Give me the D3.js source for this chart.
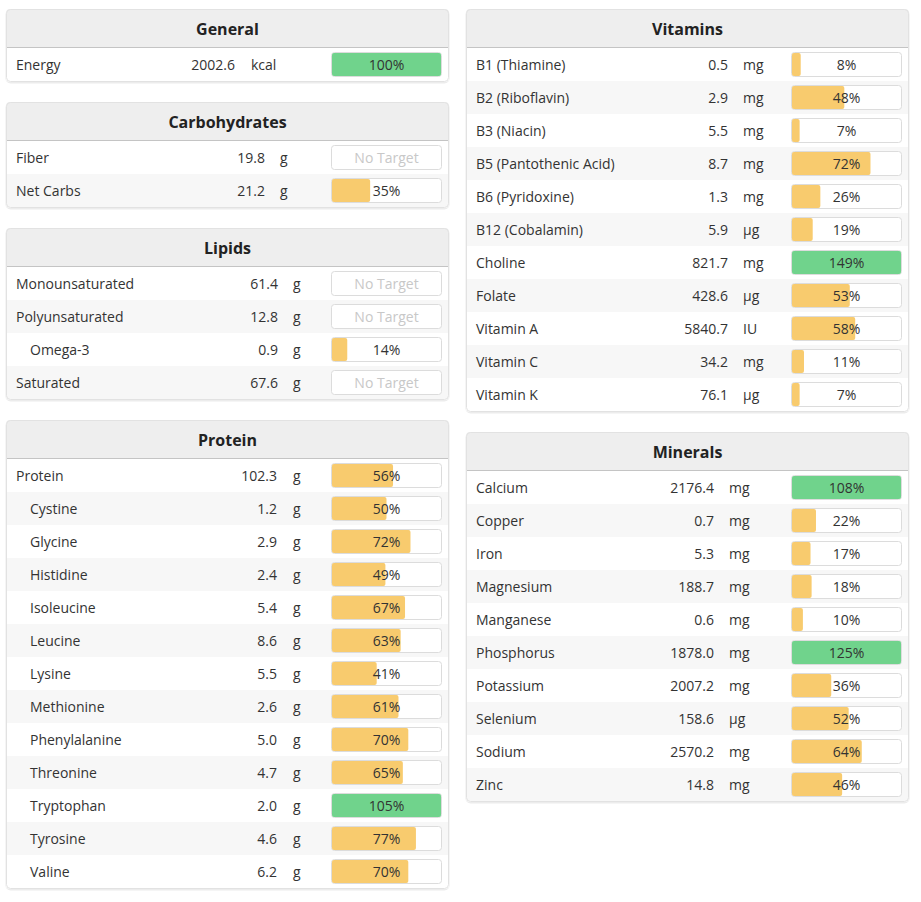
<!DOCTYPE html>
<html>
<head>
<meta charset="utf-8">
<script src="https://cdn.jsdelivr.net/npm/d3@7"></script>
<style>
  body { margin: 0; background: #fff; }
  svg { display: block; font-family: "Open Sans", sans-serif; }
  .name, .amount, .unit { font-size: 14px; fill: #333; }
  .title { font-size: 16px; font-weight: bold; fill: #222; }
  .pct { font-size: 14px; fill: #333; }
  .none { font-size: 14px; fill: #c8c8c8; }
</style>
</head>
<body>
<svg></svg>
<script>
// ---- data ----
var generalNames = ["Energy"];
var generalAmounts = [2002.6];
var generalUnits = ["kcal"];
var generalPercents = [100];

var carbNames = ["Fiber", "Net Carbs"];
var carbAmounts = [19.8, 21.2];
var carbUnits = ["g", "g"];
var carbPercents = [null, 35];

var lipidNames = ["Monounsaturated", "Polyunsaturated", "Omega-3", "Saturated"];
var lipidAmounts = [61.4, 12.8, 0.9, 67.6];
var lipidUnits = ["g", "g", "g", "g"];
var lipidPercents = [null, null, 14, null];

var proteinNames = ["Protein", "Cystine", "Glycine", "Histidine", "Isoleucine", "Leucine", "Lysine",
  "Methionine", "Phenylalanine", "Threonine", "Tryptophan", "Tyrosine", "Valine"];
var proteinAmounts = [102.3, 1.2, 2.9, 2.4, 5.4, 8.6, 5.5, 2.6, 5.0, 4.7, 2.0, 4.6, 6.2];
var proteinUnits = ["g", "g", "g", "g", "g", "g", "g", "g", "g", "g", "g", "g", "g"];
var proteinPercents = [56, 50, 72, 49, 67, 63, 41, 61, 70, 65, 105, 77, 70];

var vitaminNames = ["B1 (Thiamine)", "B2 (Riboflavin)", "B3 (Niacin)", "B5 (Pantothenic Acid)",
  "B6 (Pyridoxine)", "B12 (Cobalamin)", "Choline", "Folate", "Vitamin A", "Vitamin C", "Vitamin K"];
var vitaminAmounts = [0.5, 2.9, 5.5, 8.7, 1.3, 5.9, 821.7, 428.6, 5840.7, 34.2, 76.1];
var vitaminUnits = ["mg", "mg", "mg", "mg", "mg", "µg", "mg", "µg", "IU", "mg", "µg"];
var vitaminPercents = [8, 48, 7, 72, 26, 19, 149, 53, 58, 11, 7];

var mineralNames = ["Calcium", "Copper", "Iron", "Magnesium", "Manganese", "Phosphorus",
  "Potassium", "Selenium", "Sodium", "Zinc"];
var mineralAmounts = [2176.4, 0.7, 5.3, 188.7, 0.6, 1878.0, 2007.2, 158.6, 2570.2, 14.8];
var mineralUnits = ["mg", "mg", "mg", "mg", "mg", "mg", "mg", "µg", "mg", "mg"];
var mineralPercents = [108, 22, 17, 18, 10, 125, 36, 52, 64, 46];

// nutrients shown as children of the row above
var subNutrients = ["Omega-3", "Cystine", "Glycine", "Histidine", "Isoleucine", "Leucine", "Lysine",
  "Methionine", "Phenylalanine", "Threonine", "Tryptophan", "Tyrosine", "Valine"];

// ---- layout ----
var svgWidth = 921, svgHeight = 902;
var panelWidth = 443, headerHeight = 38, rowHeight = 33, panelGap = 20, topMargin = 9;
var barX = 325, barWidth = 111, barHeight = 25;

var columns = [
  { x: 6, panels: [
    { title: "General", names: generalNames, amounts: generalAmounts, units: generalUnits, pcts: generalPercents, valueRight: 229, unitX: 245 },
    { title: "Carbohydrates", names: carbNames, amounts: carbAmounts, units: carbUnits, pcts: carbPercents, valueRight: 259, unitX: 274 },
    { title: "Lipids", names: lipidNames, amounts: lipidAmounts, units: lipidUnits, pcts: lipidPercents, valueRight: 272, unitX: 287 },
    { title: "Protein", names: proteinNames, amounts: proteinAmounts, units: proteinUnits, pcts: proteinPercents, valueRight: 271, unitX: 287 }
  ]},
  { x: 466, panels: [
    { title: "Vitamins", names: vitaminNames, amounts: vitaminAmounts, units: vitaminUnits, pcts: vitaminPercents, valueRight: 262, unitX: 277 },
    { title: "Minerals", names: mineralNames, amounts: mineralAmounts, units: mineralUnits, pcts: mineralPercents, valueRight: 248, unitX: 263 }
  ]}
];

var svg = d3.select("svg")
  .attr("width", svgWidth)
  .attr("height", svgHeight);

// fill scale: percent of target -> width inside bar box
var fillScale = d3.scaleLinear()
  .domain([0, 100])
  .range([0, barWidth - 2])
  .clamp(true);

var clipId = 0;

columns.forEach(function(col) {
  var y = topMargin;
  col.panels.forEach(function(p) {
    var h = headerHeight + 1 + rowHeight * p.names.length + 1;
    drawPanel(p, col.x, y, h);
    y += h + panelGap;
  });
});

// This function draws one table panel
function drawPanel(p, x, y, h) {
  var g = svg.append("g").attr("transform", "translate(" + x + "," + y + ")");
  var id = "clip-" + (clipId++);

  g.append("clipPath").attr("id", id)
    .append("rect")
    .attr("width", panelWidth).attr("height", h)
    .attr("rx", 4).attr("ry", 4);

  // soft shadow
  g.append("rect")
    .attr("x", -0.5).attr("y", 0.5)
    .attr("width", panelWidth + 1).attr("height", h + 1)
    .attr("rx", 5).attr("ry", 5)
    .attr("fill", "#ececec");

  var inner = g.append("g").attr("clip-path", "url(#" + id + ")");

  inner.append("rect")
    .attr("width", panelWidth).attr("height", h)
    .attr("fill", "#fff");

  // header
  inner.append("rect")
    .attr("width", panelWidth).attr("height", headerHeight)
    .attr("fill", "#eeeeee");
  inner.append("rect")
    .attr("y", headerHeight).attr("width", panelWidth).attr("height", 1)
    .attr("fill", "#c4c4c4");
  g.append("text")
    .attr("class", "title")
    .attr("x", panelWidth / 2)
    .attr("y", headerHeight / 2 + 1)
    .attr("dy", "0.35em")
    .attr("text-anchor", "middle")
    .text(p.title);

  var rows = p.names.map(function(n, i) {
    return { name: n, amount: p.amounts[i], unit: p.units[i], pct: p.pcts[i], i: i };
  });

  var yScale = d3.scaleBand()
    .domain(d3.range(rows.length))
    .range([headerHeight + 1, headerHeight + 1 + rowHeight * rows.length]);

  var row = inner.selectAll("g.row")
    .data(rows)
    .enter()
    .append("g")
    .attr("class", "row")
    .attr("transform", function(d) { return "translate(0," + yScale(d.i) + ")"; });

  row.append("rect")
    .attr("width", panelWidth)
    .attr("height", yScale.bandwidth())
    .attr("fill", function(d) { return d.i % 2 ? "#f7f7f7" : "#fff"; });

  var mid = rowHeight / 2 + 1;

  row.append("text")
    .attr("class", "name")
    .attr("x", function(d) { return subNutrients.indexOf(d.name) >= 0 ? 24 : 10; })
    .attr("y", mid).attr("dy", "0.35em")
    .text(function(d) { return d.name; });

  row.append("text")
    .attr("class", "amount")
    .attr("x", p.valueRight)
    .attr("y", mid).attr("dy", "0.35em")
    .attr("text-anchor", "end")
    .text(function(d) { return d.amount.toFixed(1); });

  row.append("text")
    .attr("class", "unit")
    .attr("x", p.unitX)
    .attr("y", mid).attr("dy", "0.35em")
    .text(function(d) { return d.unit; });

  var barTop = (rowHeight - barHeight) / 2;

  row.append("rect")
    .attr("x", barX + 0.5).attr("y", barTop + 0.5)
    .attr("width", barWidth - 1).attr("height", barHeight - 1)
    .attr("rx", 3).attr("ry", 3)
    .attr("fill", "#fff")
    .attr("stroke", "#dcdcdc");

  row.filter(function(d) { return d.pct !== null; })
    .append("rect")
    .attr("x", barX + 1).attr("y", barTop + 1)
    .attr("width", function(d) { return fillScale(d.pct); })
    .attr("height", barHeight - 2)
    .attr("rx", 2).attr("ry", 2)
    .attr("fill", function(d) { return d.pct >= 100 ? "#70d38c" : "#f8cb6e"; });

  row.append("text")
    .attr("class", function(d) { return d.pct === null ? "none" : "pct"; })
    .attr("x", barX + barWidth / 2)
    .attr("y", mid).attr("dy", "0.35em")
    .attr("text-anchor", "middle")
    .text(function(d) { return d.pct === null ? "No Target" : d.pct + "%"; });

  // outer border
  g.append("rect")
    .attr("x", 0.5).attr("y", 0.5)
    .attr("width", panelWidth - 1).attr("height", h - 1)
    .attr("rx", 4).attr("ry", 4)
    .attr("fill", "none")
    .attr("stroke", "#e2e2e2");
}
</script>
</body>
</html>
